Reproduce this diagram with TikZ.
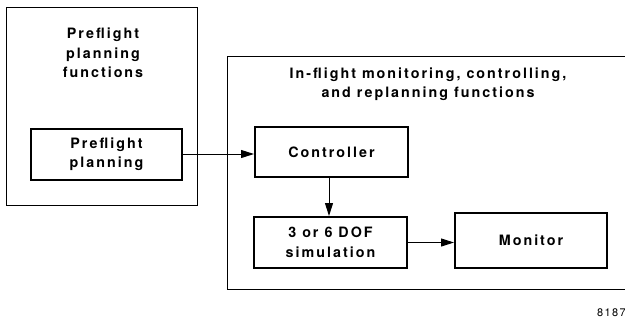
\documentclass[tikz,border=0pt]{standalone}
\usepackage{fontspec}
\setmainfont{TeX Gyre Heros}
\usetikzlibrary{arrows.meta}
\newfontfamily\lblfont[LetterSpace=14]{TeX Gyre Heros Bold}
\newfontfamily\numfont[LetterSpace=12]{TeX Gyre Heros}
\tikzset{
  outerframe/.style={draw, line width=1bp, inner sep=0pt},
  blockbox/.style={draw, line width=2bp, inner sep=0pt, align=center,
    font=\lblfont\fontsize{14.3bp}{19.5bp}\selectfont},
  titletext/.style={align=center, inner sep=0pt,
    font=\lblfont\fontsize{14.3bp}{19.5bp}\selectfont},
  flow/.style={line width=1bp, -{Triangle[length=13bp,width=8bp]}},
}
\begin{document}
\begin{tikzpicture}[x=1bp,y=-1bp]
\useasboundingbox (0,0) rectangle (625,325);
% left outer frame
\node[outerframe, minimum width=190bp, minimum height=198bp] (leftframe) at (102,106) {};
\node[titletext] (lefttitle) at (103,53) {Preflight\\planning\\functions};
% right outer frame (open to the right)
\coordinate (rtop) at (626,56);
\coordinate (rbot) at (626,289);
\draw[line width=1bp] (rtop) -- (227,56) -- (227,289) -- (rbot);
\node[titletext] (righttitle) at (428,84) {In-flight monitoring, controlling,\\and replanning functions};
% blocks
\node[blockbox, minimum width=151bp, minimum height=51bp] (pre) at (106.5,154) {Preflight\\planning};
\node[blockbox, minimum width=153bp, minimum height=50bp] (ctrl) at (331.5,152) {Controller};
\node[blockbox, minimum width=153bp, minimum height=51bp] (sim) at (330.5,242.5) {3 or 6 DOF\\simulation};
\node[blockbox, minimum width=152bp, minimum height=55bp] (mon) at (531,240.5) {Monitor};
% connectors
\draw[flow] (pre.east) -- (pre.east -| ctrl.west);
\draw[flow] (ctrl.south -| 329,0) -- (sim.north -| 329,0);
\draw[flow] (sim.east) -- (mon.west |- sim.east);
% figure number
\node[anchor=base west, inner sep=0pt, font=\numfont\fontsize{11bp}{13bp}\selectfont] (fignum) at (597,316) {8187};
\end{tikzpicture}
\end{document}
